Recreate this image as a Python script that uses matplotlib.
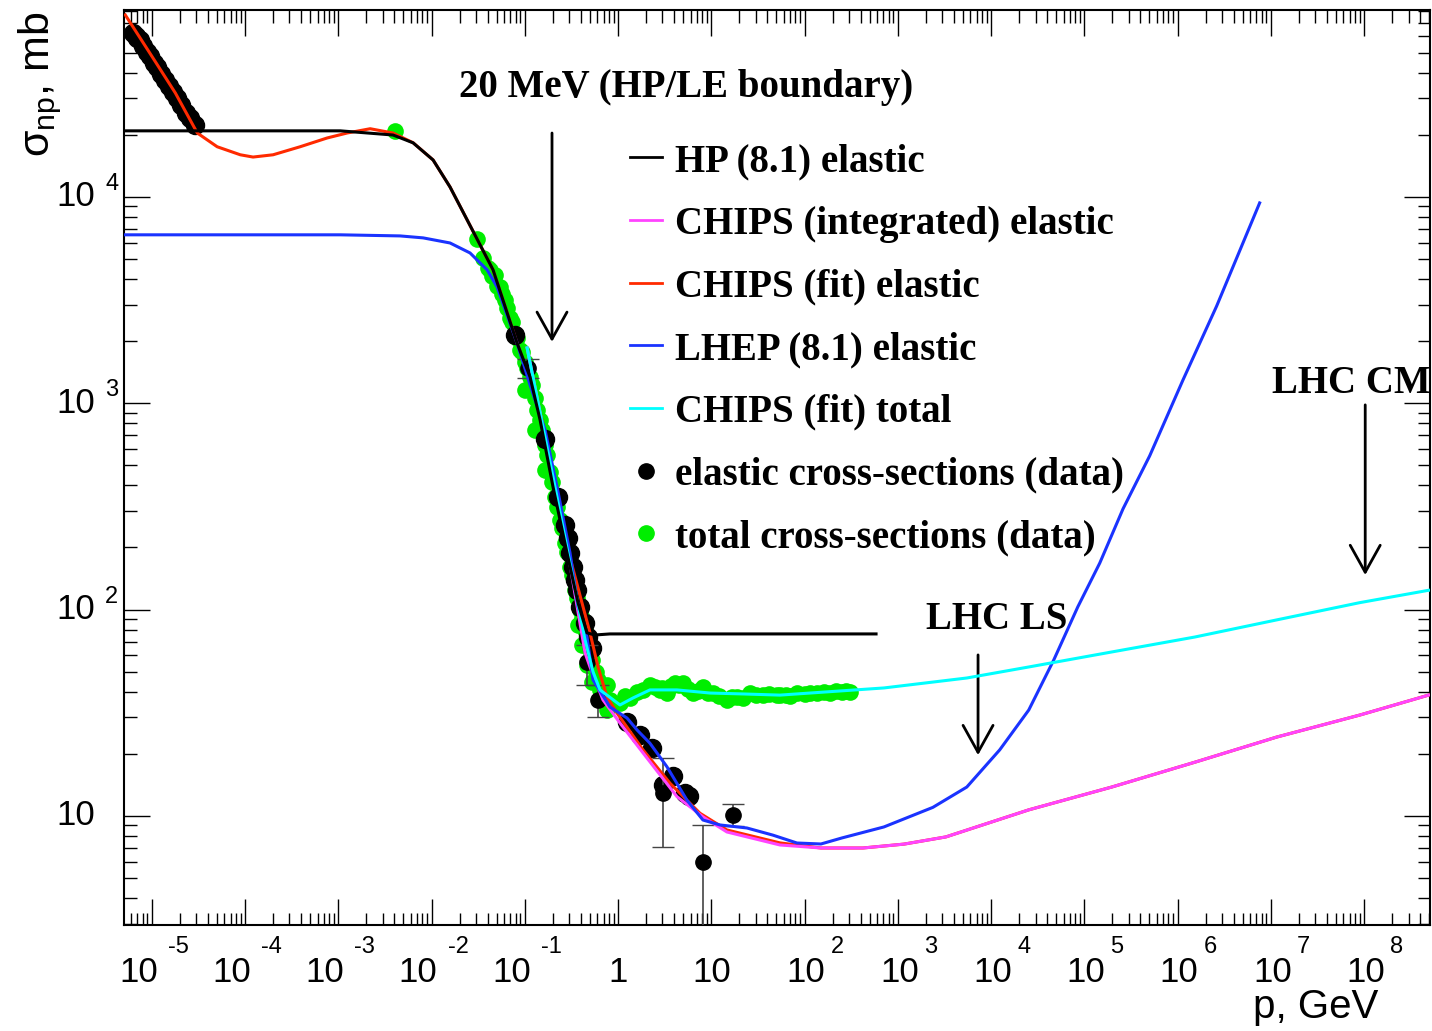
import matplotlib
matplotlib.use('Agg')
import matplotlib.pyplot as plt
from matplotlib.lines import Line2D
from matplotlib import transforms
import numpy as np

plt.rcParams['mathtext.default'] = 'regular'

# ---- curves (p in GeV, sigma in mb) ----
p_hp = [5.0e-6, 1.05e-3, 3.87e-3, 6.35e-3, 0.0104, 0.0158, 0.0241, 0.0457, 0.0826, 0.114,
        0.146, 0.201, 0.284, 0.372, 0.465, 0.566, 0.82, 585]
s_hp = [20900, 20900, 19950, 18280, 15100, 11170, 7740, 4430, 1960, 1340,
        830, 393, 188, 108, 77.1, 75.3, 76.2, 76.2]

p_fit = [5.2e-6, 9.64e-6, 1.79e-5, 3.08e-5, 5.03e-5, 8.9e-5, 1.22e-4, 2.0e-4, 3.9e-4, 7.6e-4,
         1.245e-3, 2.2e-3, 3.87e-3, 6.35e-3, 0.0104, 0.0158, 0.0241, 0.0457, 0.0826, 0.114,
         0.153, 0.211, 0.291, 0.422, 0.501, 0.611, 0.762, 0.976, 1.855, 3.61,
         7.57, 14.7, 54.5, 150, 423, 1167, 3280, 25400, 197000, 1.53e6, 1.156e7, 8.97e7, 4.92e8]
s_fit = [76200, 49400, 31900, 20400, 17500, 16000, 15600, 16000, 17500, 19300,
         20400, 21400, 20400, 18300, 15100, 11170, 7740, 4430, 1960, 1297,
         830, 402, 194, 103, 77.1, 52.7, 37.7, 31.5, 20.9, 14.4,
         10.3, 8.55, 7.40, 6.99, 6.99, 7.30, 7.91, 10.7, 13.8, 18.2, 24.1, 30.8, 38.5]

p_int = [0.106, 0.211, 0.291, 0.443, 0.501, 0.690, 1.05, 1.855, 4.29, 8.15,
         14.7, 54.5, 150, 423, 1167, 3280, 25400, 197000, 1.53e6, 1.156e7, 8.97e7, 4.92e8]
s_int = [1854, 393, 188, 61.7, 52.7, 36.5, 28.2, 20.2, 12.4, 9.89,
         8.36, 7.23, 6.99, 6.99, 7.30, 7.91, 10.7, 13.8, 18.2, 24.1, 30.8, 38.5]

p_lhep = [5.0e-6, 1.05e-3, 4.6e-3, 8.13e-3, 0.0158, 0.0259, 0.0395, 0.0505, 0.0826, 0.114,
          0.165, 0.222, 0.306, 0.373, 0.465, 0.540, 0.820, 1.25, 1.60, 2.20,
          3.35, 5.50, 8.15, 12.4, 24.1, 45.8, 83.0, 150, 252, 710,
          2380, 5500, 12400, 25400, 47100, 85200, 146600, 260600, 503000, 1.145e6,
          2.63e6, 7.6e6]
s_lhep = [6550, 6550, 6470, 6330, 5980, 5350, 4430, 3660, 1960, 1227,
          743, 393, 188, 103, 73.7, 45.6, 33.7, 29.8, 26.1, 22.5,
          17.3, 11.9, 9.55, 9.04, 8.74, 8.07, 7.39, 7.31, 7.82, 8.84,
          11.0, 13.8, 20.9, 32.6, 57.0, 103, 168, 308, 556, 1297,
          2960, 9350]

p_tot = [0.106, 0.211, 0.291, 0.443, 0.540, 0.641, 1.05, 1.45, 2.20, 4.29,
         9.68, 21.9, 54.5, 710, 5500, 25400, 197000, 1.53e6, 1.156e7, 8.97e7, 4.92e8]
s_tot = [1854, 393, 188, 71.3, 49.9, 40.8, 34.5, 37.3, 40.8, 40.8,
         39.4, 39.0, 38.5, 41.7, 46.6, 52.7, 62.3, 73.6, 89.1, 108, 124]

# ---- elastic data, no visible errors ----
p_el = [6.33e-6, 6.7e-6, 7.0e-6, 7.53e-6, 8.1e-6, 8.95e-6, 9.64e-6, 1.064e-5, 1.146e-5, 1.265e-5,
        1.396e-5, 1.54e-5, 1.70e-5, 1.876e-5, 2.07e-5, 2.34e-5, 2.58e-5, 2.92e-5,
        0.0787, 0.165, 0.227, 0.270, 0.291, 0.306, 0.330, 0.346, 0.364,
        0.392, 0.443, 0.477, 0.526,
        1.25, 1.72, 2.31, 3.04, 3.88, 5.22, 5.77]
s_el = [62400, 60500, 58800, 57300, 53600, 50600, 48400, 44600, 42600, 39400,
        37000, 34600, 32300, 30000, 28000, 25600, 24000, 22300,
        2140, 671, 352, 257, 222, 188, 161, 139, 124,
        103, 86.1, 73.6, 65.2,
        28.5, 24.7, 21.3, 14.1, 15.6, 12.9, 12.5]
# ---- elastic data with error bars ----
p_ele = [0.1084, 0.465, 0.611, 3.04, 8.15, 17.1]
s_ele = [1483, 55.8, 36.5, 12.9, 5.98, 10.1]
e_lo = [156, 12.7, 6.4, 5.84, 5.9, 1.2]
e_hi = [157, 11.5, 6.6, 6.2, 3.06, 1.3]

# ---- total cross-section data ----
p_totd = [4.07e-3, 0.0308, 0.0425,
          0.0357, 0.0404, 0.0446, 0.0504, 0.0570, 0.0645, 0.0730, 0.0826, 0.0935, 0.1057,
          0.1197, 0.1353, 0.1531, 0.1733, 0.196, 0.222, 0.251, 0.284, 0.321, 0.363,
          0.411, 0.465, 0.526, 0.610,
          0.0481, 0.0543, 0.0615, 0.0695, 0.0787, 0.0891, 0.1007, 0.114, 0.129, 0.146,
          0.165, 0.187, 0.211, 0.239, 0.270, 0.306, 0.346, 0.392, 0.443, 0.501,
          0.581, 0.641, 0.743, 0.373, 0.41, 0.465, 0.526, 0.165, 0.129, 0.1007,
          0.762, 0.821, 0.762, 1.05, 1.35, 1.85, 2.20, 2.82, 3.35, 4.08,
          4.97, 6.37, 8.15, 10.4, 14.7, 18.8, 26.0, 35.8, 50.6, 54.5,
          83, 136, 187, 252, 307,
          1.2, 1.6, 2.5, 3.0, 3.7, 4.5, 5.6, 7.2, 9.2, 12.0,
          16.5, 22.0, 30.0, 42.0, 64.0, 70.0, 100, 115, 160, 220, 280]
s_totd = [20900, 6250, 4430,
          5060, 4530, 4140, 3700, 3390, 2900, 2480, 2070, 1770, 1483,
          1227, 929, 743, 562, 416, 314, 249, 190, 147, 114,
          91.0, 74.5, 57.0, 45.6,
          4190, 3660, 3170, 2590, 2120, 1810, 1585, 1340, 1061, 830,
          628, 465, 352, 272, 210, 161, 124, 99.5, 79.6, 63.7,
          49.9, 40.8, 36.5, 84.2, 67.3, 53.8, 44.6, 475, 741, 1161,
          43.1, 36.5, 32.6, 35.3, 37.3, 40.8, 43.1, 40.8, 39.4, 44.0,
          44.0, 39.4, 42.2, 39.4, 36.5, 37.7, 39.4, 38.6, 38.6, 38.6,
          39.4, 39.4, 39.4, 40.0, 40.0,
          38.0, 40.0, 42.2, 41.5, 42.5, 43.0, 41.0, 40.2, 39.5, 38.2,
          37.5, 37.2, 38.6, 38.8, 38.6, 38.2, 39.0, 39.4, 39.7, 40.2, 40.5]

decades = list(range(-5, 9))

W, H = 1432, 1031
fig = plt.figure(figsize=(W / 100, H / 100), dpi=100)
ax = fig.add_axes([124 / W, 1 - 925 / H, 1306 / W, 915 / H])
ax.set_xscale('log')
ax.set_yscale('log')
ax.set_xlim(5.04e-6, 5.1e8)
ax.set_ylim(2.96, 80500)

ax.plot(p_totd, s_totd, 'o', color='#00ee00', ms=12, mec='none', zorder=2)
ax.plot(p_el, s_el, 'o', color='black', ms=13, zorder=3)
ax.errorbar(p_ele, s_ele, yerr=[e_lo, e_hi], fmt='o', color='black', ms=11,
            ecolor='#444444', elinewidth=1.2, capsize=8, zorder=3)

lw = 2.2
ax.plot(p_fit, s_fit, color='#ff2a00', lw=lw, zorder=4)
ax.plot(p_int, s_int, color='#ff44ff', lw=lw, zorder=5)
ax.plot(p_lhep, s_lhep, color='#1a33ff', lw=lw, zorder=6)
ax.plot(p_tot, s_tot, color='#00ffff', lw=lw, zorder=6)
ax.plot(p_hp, s_hp, color='black', lw=lw, zorder=7)

# ticks, ROOT style
ax.tick_params(which='both', direction='in', top=True, right=True, labelbottom=False, labelleft=False)
ax.tick_params(which='major', length=19, width=1)
ax.tick_params(which='minor', length=9, width=1)
ax.xaxis.set_major_locator(matplotlib.ticker.LogLocator(base=10, numticks=30))
ax.xaxis.set_minor_locator(matplotlib.ticker.LogLocator(base=10, subs=np.arange(2, 10), numticks=30))
for sp in ax.spines.values():
    sp.set_linewidth(1.5)

sans = 'Liberation Sans'
bx = transforms.blended_transform_factory(ax.transData, ax.transAxes)
for e in decades:
    x = 10.0 ** e
    if e == 0 or e == 1:
        t = transforms.offset_copy(bx, fig=fig, x=0, y=-57, units='dots')
        ax.text(x, 0, '1' if e == 0 else '10', transform=t, ha='center', va='baseline',
                fontsize=25, family=sans)
        continue
    if e < 0:
        bo, eo = 6, 16
    else:
        bo, eo = 21, 26
    t = transforms.offset_copy(bx, fig=fig, x=bo, y=-57, units='dots')
    ax.text(x, 0, '10', transform=t, ha='right', va='baseline', fontsize=25, family=sans)
    t = transforms.offset_copy(bx, fig=fig, x=eo, y=-28, units='dots')
    ax.text(x, 0, str(e), transform=t, ha='left', va='baseline', fontsize=17, family=sans)

by = transforms.blended_transform_factory(ax.transAxes, ax.transData)
for e in [1, 2, 3, 4]:
    y = 10.0 ** e
    t = transforms.offset_copy(by, fig=fig, x=-29, y=0, units='dots')
    ax.text(0, y, '10', transform=t, ha='right', va='center', fontsize=25, family=sans)
    if e > 1:
        t = transforms.offset_copy(by, fig=fig, x=-19, y=7, units='dots')
        ax.text(0, y, str(e), transform=t, ha='left', va='baseline', fontsize=17, family=sans)

fig.text(40 / W, 1 - 12 / H, 'σ$_{np}$, mb', rotation=90, ha='center', va='top',
         fontsize=31, family=sans)
fig.text(1378 / W, 1 - 1018 / H, 'p, GeV', ha='right', va='baseline', fontsize=29, family=sans)

serif = 'Liberation Serif'
ax.text(5.36, 10 ** (4 - (97 - 197) / 206.3), '20 MeV (HP/LE boundary)', ha='center', va='baseline',
        fontsize=28, fontweight='bold', family=serif)
ax.text(11600, 10 ** (4 - (629 - 197) / 206.3), 'LHC LS', ha='center', va='baseline',
        fontsize=28, fontweight='bold', family=serif)
ax.text(7.25e7, 10 ** (4 - (393 - 197) / 206.3), 'LHC CM', ha='center', va='baseline',
        fontsize=28, fontweight='bold', family=serif)

aprops = dict(arrowstyle='->,head_length=0.97,head_width=0.54', mutation_scale=20, lw=2,
              color='black', shrinkA=0, shrinkB=0)
ax.annotate('', xy=(0.196, 1983), xytext=(0.196, 20400), arrowprops=aprops)
ax.annotate('', xy=(7260, 19.7), xytext=(7260, 60.3), arrowprops=aprops)
ax.annotate('', xy=(1.03e8, 147), xytext=(1.03e8, 982), arrowprops=aprops)

handles = [Line2D([], [], color='black', lw=2),
           Line2D([], [], color='#ff44ff', lw=2),
           Line2D([], [], color='#ff2a00', lw=2),
           Line2D([], [], color='#1a33ff', lw=2),
           Line2D([], [], color='#00ffff', lw=2),
           Line2D([], [], color='black', marker='o', ls='none', ms=11),
           Line2D([], [], color='#00ee00', marker='o', ls='none', ms=11)]
labels = ['HP (8.1) elastic', 'CHIPS (integrated) elastic', 'CHIPS (fit) elastic',
          'LHEP (8.1) elastic', 'CHIPS (fit) total', 'elastic cross-sections (data)',
          'total cross-sections (data)']
leg = ax.legend(handles, labels, loc='upper left', bbox_to_anchor=((630 - 124) / 1306, 1 - (143 - 10) / 915),
                frameon=False, borderpad=0, borderaxespad=0, handlelength=0.82, handletextpad=0.33,
                labelspacing=0.66, prop=dict(family=serif, weight='bold', size=28))

fig.savefig('out.png', dpi=100)
